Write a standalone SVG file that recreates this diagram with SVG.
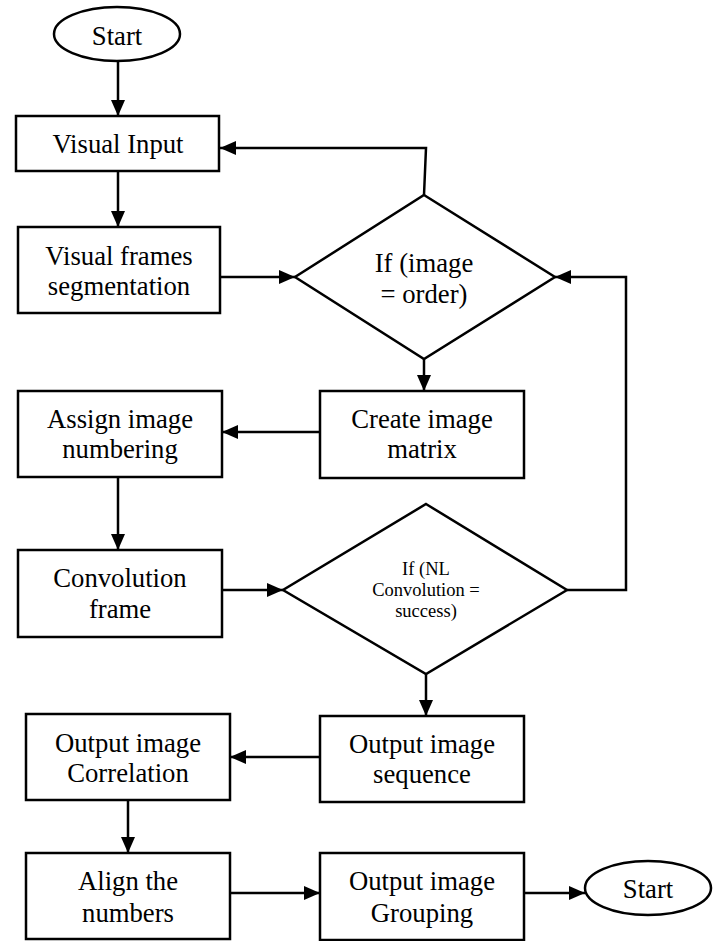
<svg xmlns="http://www.w3.org/2000/svg" width="723" height="941" viewBox="0 0 723 941">
<style>
.shape{fill:#fff;stroke:#000;stroke-width:2.5}
.conn path{fill:none;stroke:#000;stroke-width:2.5;marker-end:url(#ah)}
text{font-family:'Liberation Serif', 'Times New Roman', serif;font-size:26.7px;fill:#000;text-anchor:middle}
text.small{font-size:18.5px}
</style>
<defs>
<marker id="ah" markerWidth="16" markerHeight="14" refX="16" refY="7" orient="auto" markerUnits="userSpaceOnUse">
<path d="M0,0 L16,7 L0,14 Z" fill="#000"/>
</marker>
</defs>
<g id="connectors" class="conn">
<path d="M118,61 L118,116"/>
<path d="M118,171 L118,227"/>
<path d="M220,277 L295,277"/>
<path d="M424,195 L426,148 L220,148"/>
<path d="M424,359 L424,391"/>
<path d="M320,432 L222,432"/>
<path d="M118,477 L118,550"/>
<path d="M222,590 L283,590"/>
<path d="M567,590 L626,590 L626,277 L555,277"/>
<path d="M426,674 L426,716"/>
<path d="M320,757 L230,757"/>
<path d="M128,800 L128,853"/>
<path d="M230,893 L320,893"/>
<path d="M524,893 L585,893"/>
</g>
<g id="start">
<ellipse class="shape" cx="117" cy="34" rx="63" ry="27"/>
<text x="117" y="45">Start</text>
</g>
<g id="visual-input">
<rect class="shape" x="16" y="116" width="203" height="55"/>
<text x="118" y="153">Visual Input</text>
</g>
<g id="visual-frames">
<rect class="shape" x="18" y="227" width="202" height="86"/>
<text x="119" y="265">Visual frames</text>
<text x="119" y="295">segmentation</text>
</g>
<g id="decision-order">
<polygon class="shape" points="424,195 555,277 424,359 295,277"/>
<text x="424" y="272">If (image</text>
<text x="424" y="303">= order)</text>
</g>
<g id="create-matrix">
<rect class="shape" x="320" y="391" width="204" height="87"/>
<text x="422" y="428">Create image</text>
<text x="422" y="458">matrix</text>
</g>
<g id="assign-numbering">
<rect class="shape" x="18" y="391" width="204" height="86"/>
<text x="120" y="428">Assign image</text>
<text x="120" y="458">numbering</text>
</g>
<g id="convolution-frame">
<rect class="shape" x="18" y="550" width="204" height="87"/>
<text x="120" y="587">Convolution</text>
<text x="120" y="618">frame</text>
</g>
<g id="decision-convolution">
<polygon class="shape" points="426,504 567,590 426,674 283,590"/>
<text class="small" x="426" y="575">If (NL</text>
<text class="small" x="426" y="596">Convolution =</text>
<text class="small" x="426" y="617">success)</text>
</g>
<g id="output-sequence">
<rect class="shape" x="320" y="716" width="204" height="86"/>
<text x="422" y="753">Output image</text>
<text x="422" y="783">sequence</text>
</g>
<g id="output-correlation">
<rect class="shape" x="26" y="714" width="204" height="86"/>
<text x="128" y="752">Output image</text>
<text x="128" y="782">Correlation</text>
</g>
<g id="align-numbers">
<rect class="shape" x="26" y="853" width="204" height="86"/>
<text x="128" y="890">Align the</text>
<text x="128" y="922">numbers</text>
</g>
<g id="output-grouping">
<rect class="shape" x="320" y="853" width="204" height="87"/>
<text x="422" y="890">Output image</text>
<text x="422" y="922">Grouping</text>
</g>
<g id="end">
<ellipse class="shape" cx="648" cy="888" rx="63" ry="27"/>
<text x="648" y="898">Start</text>
</g>
</svg>
